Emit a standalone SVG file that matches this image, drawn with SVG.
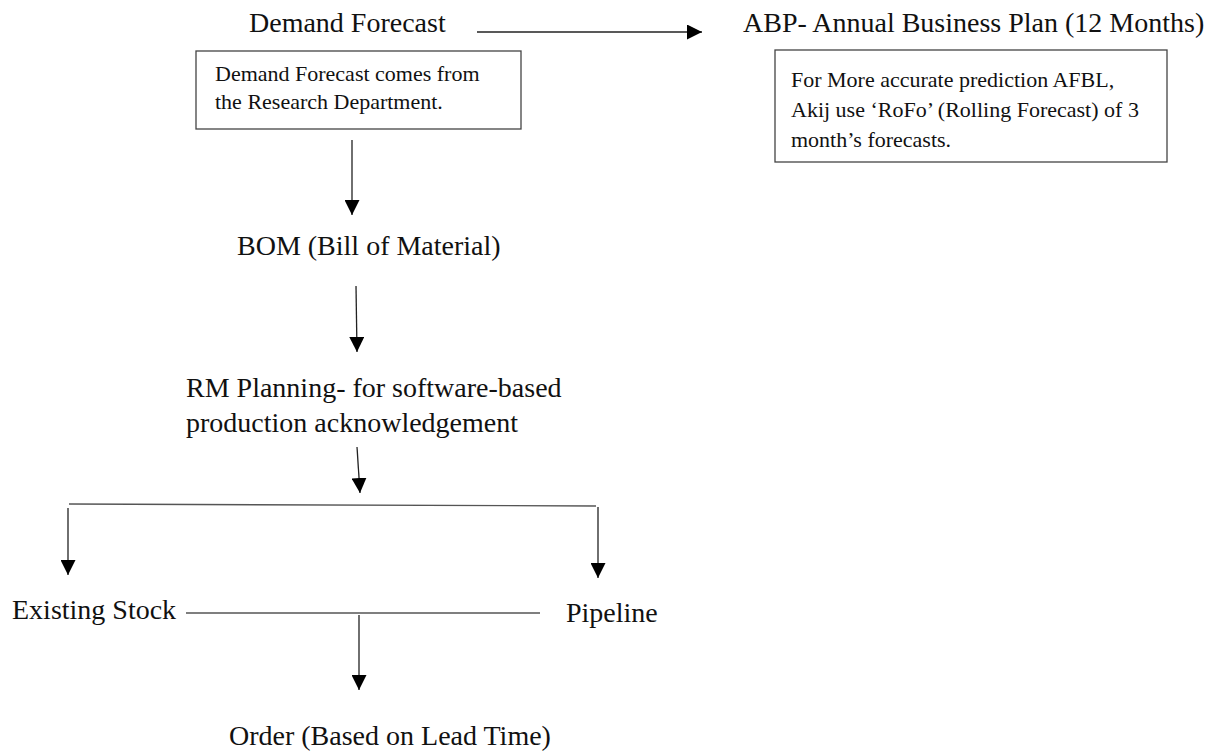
<svg xmlns="http://www.w3.org/2000/svg" width="1217" height="751" viewBox="0 0 1217 751">
  <style>
    .title { font-family: "Liberation Serif", "Times New Roman", serif; font-size: 28px; fill: #111; }
    .note { font-family: "Liberation Serif", "Times New Roman", serif; font-size: 22px; fill: #111; }
    .box { fill: #fff; stroke: #444; stroke-width: 1.3; }
    .link { fill: none; stroke: #222; stroke-width: 1.3; }
    .rail { fill: none; stroke: #555; stroke-width: 1.4; }
  </style>
  <defs>
    <marker id="head" markerUnits="userSpaceOnUse" markerWidth="15" markerHeight="15" refX="15" refY="7.5" orient="auto">
      <path d="M0,0 L15,7.5 L0,15 Z" fill="#000"/>
    </marker>
  </defs>

  <rect width="1217" height="751" fill="#fff"/>

  <g id="connectors">
    <!-- forecast to annual plan -->
    <line class="link" x1="477" y1="32" x2="702" y2="32" marker-end="url(#head)"/>
    <!-- forecast to BOM -->
    <line class="link" x1="352" y1="140" x2="352" y2="215" marker-end="url(#head)"/>
    <!-- BOM to RM planning -->
    <line class="link" x1="356" y1="286" x2="357" y2="352" marker-end="url(#head)"/>
    <!-- RM planning to split -->
    <line class="link" x1="357" y1="447" x2="360" y2="493" marker-end="url(#head)"/>
    <!-- split rail -->
    <line class="rail" x1="69" y1="504" x2="596" y2="506"/>
    <line class="link" x1="68" y1="508" x2="68" y2="575" marker-end="url(#head)"/>
    <line class="link" x1="598" y1="507" x2="598" y2="578" marker-end="url(#head)"/>
    <!-- join rail and order -->
    <line class="rail" x1="186" y1="613" x2="540" y2="613"/>
    <line class="link" x1="359" y1="615" x2="359" y2="690" marker-end="url(#head)"/>
  </g>

  <g id="demand-forecast">
    <text class="title" x="249" y="32">Demand Forecast</text>
  </g>

  <g id="demand-note">
    <rect class="box" x="196" y="51" width="325" height="78"/>
    <text class="note" x="215" y="81">Demand Forecast comes from</text>
    <text class="note" x="215" y="109">the Research Department.</text>
  </g>

  <g id="abp">
    <text class="title" x="743" y="32">ABP- Annual Business Plan (12 Months)</text>
  </g>

  <g id="abp-note">
    <rect class="box" x="775" y="50" width="392" height="112"/>
    <text class="note" x="791" y="87">For More accurate prediction AFBL,</text>
    <text class="note" x="791" y="117">Akij use ‘RoFo’ (Rolling Forecast) of 3</text>
    <text class="note" x="791" y="147">month’s forecasts.</text>
  </g>

  <g id="bom">
    <text class="title" x="237" y="255">BOM (Bill of Material)</text>
  </g>

  <g id="rm-planning">
    <text class="title" x="186" y="397">RM Planning- for software-based</text>
    <text class="title" x="186" y="432">production acknowledgement</text>
  </g>

  <g id="existing-stock">
    <text class="title" x="12" y="619">Existing Stock</text>
  </g>

  <g id="pipeline">
    <text class="title" x="566" y="622">Pipeline</text>
  </g>

  <g id="order">
    <text class="title" x="229" y="745">Order (Based on Lead Time)</text>
  </g>
</svg>
